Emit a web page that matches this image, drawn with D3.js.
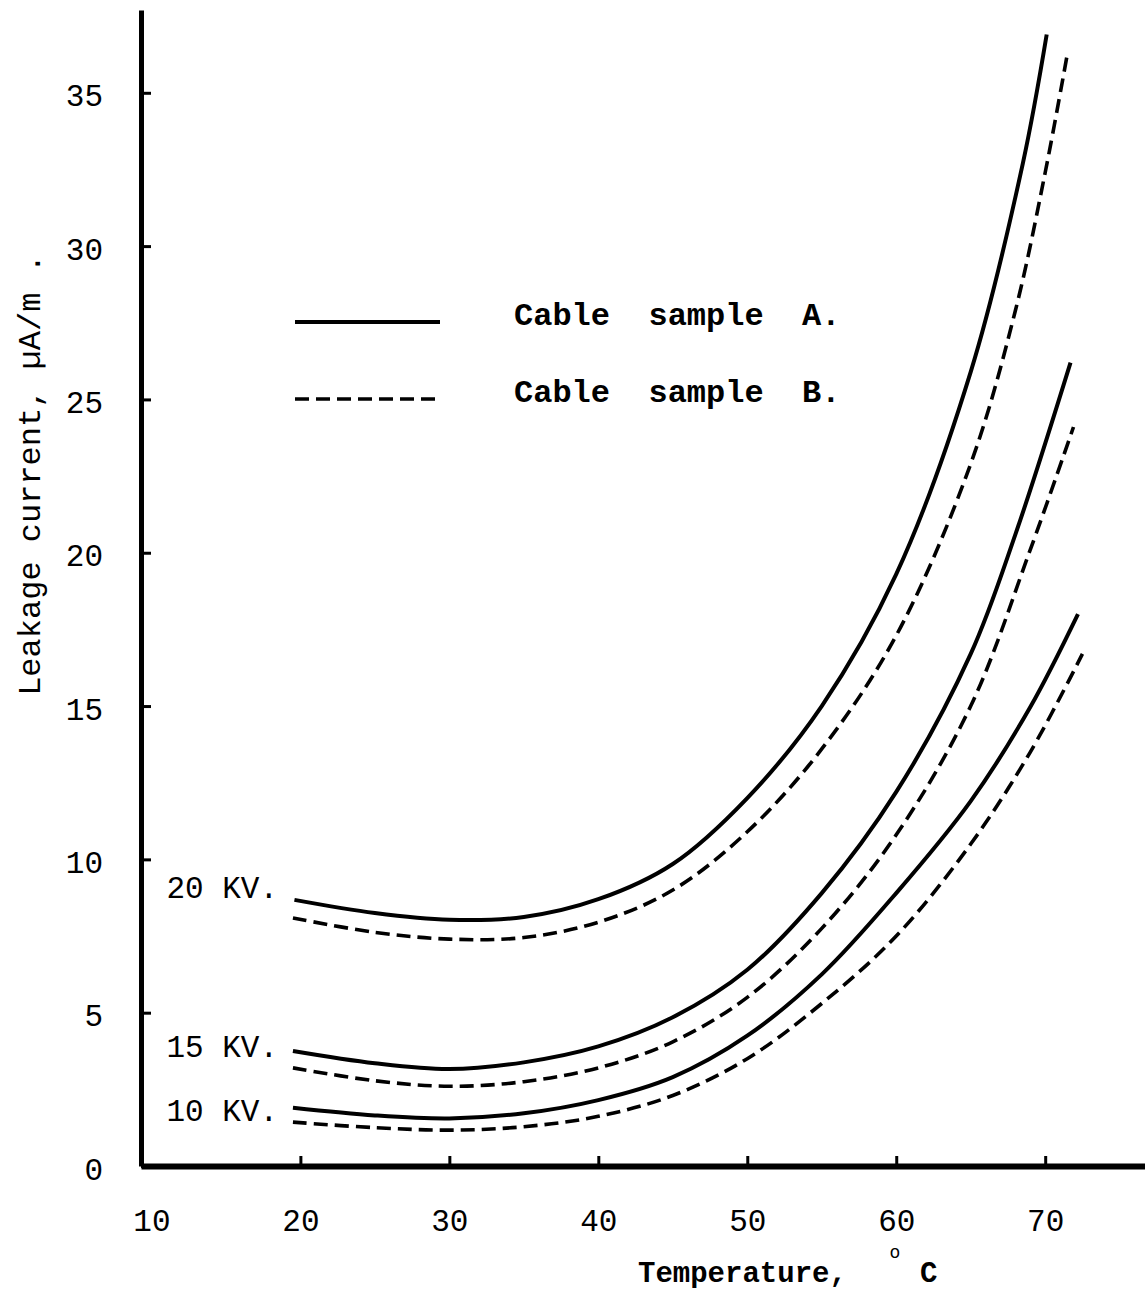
<!DOCTYPE html>
<html>
<head>
<meta charset="utf-8">
<script src="https://cdn.jsdelivr.net/npm/d3@7"></script>
<style>
  html, body { margin: 0; padding: 0; background: #fff; }
  svg { display: block; }
  text { white-space: pre; }
</style>
</head>
<body>
<svg id="chart" width="1145" height="1291"></svg>
<script>
// ---- data ----
const xTicks = [10, 20, 30, 40, 50, 60, 70];
const yTicks = [0, 5, 10, 15, 20, 25, 30, 35];

const t20A = [19.6, 25, 30, 35, 40, 45, 50, 55, 60, 65, 68.5, 70.1];
const v20A = [8.68, 8.25, 8.03, 8.12, 8.7, 9.85, 12.0, 15.0, 19.3, 25.9, 32.7, 36.9];
const t20B = [19.5, 25, 30, 35, 40, 45, 50, 55, 60, 65, 68, 70, 71.5];
const v20B = [8.09, 7.62, 7.4, 7.45, 7.95, 9.0, 10.9, 13.6, 17.3, 22.9, 27.9, 32.4, 36.3];

const t15A = [19.5, 25, 30, 35, 40, 45, 50, 55, 60, 65, 68, 71.7];
const v15A = [3.75, 3.35, 3.16, 3.38, 3.9, 4.85, 6.4, 8.9, 12.2, 16.7, 20.6, 26.2];
const t15B = [19.5, 25, 30, 35, 40, 45, 50, 55, 60, 65, 69, 71.9];
const v15B = [3.2, 2.78, 2.6, 2.75, 3.2, 4.05, 5.5, 7.75, 10.8, 15.0, 20.1, 24.1];

const t10A = [19.5, 25, 30, 35, 40, 45, 50, 55, 60, 65, 69, 72.2];
const v10A = [1.9, 1.65, 1.55, 1.72, 2.15, 2.9, 4.25, 6.25, 8.9, 11.9, 14.97, 18.0];
const t10B = [19.5, 25, 30, 35, 40, 45, 50, 55, 60, 65, 69, 72.5];
const v10B = [1.43, 1.25, 1.17, 1.28, 1.62, 2.3, 3.5, 5.3, 7.5, 10.5, 13.5, 16.7];

const voltageLabels = ["20 KV.", "15 KV.", "10 KV."];
const voltageLabelValues = [9.1, 3.9, 1.83];
const legendLabels = ["Cable  sample  A.", "Cable  sample  B."];

const series = [
  { t: t20A, v: v20A, dashed: false },
  { t: t20B, v: v20B, dashed: true },
  { t: t15A, v: v15A, dashed: false },
  { t: t15B, v: v15B, dashed: true },
  { t: t10A, v: v10A, dashed: false },
  { t: t10B, v: v10B, dashed: true }
];

// ---- drawing ----
const svg = d3.select("#chart");
const mono = "'Liberation Mono', 'DejaVu Sans Mono', monospace";

const x = d3.scaleLinear().domain([9.3, 76.7]).range([141, 1145]);
const y = d3.scaleLinear().domain([0, 37.7]).range([1166, 10]);

// y axis
const gy = svg.append("g").attr("transform", `translate(${x(9.3)},0)`)
  .call(d3.axisLeft(y).tickValues(yTicks).tickSize(-10).tickSizeOuter(0).tickPadding(38));
gy.select(".domain").attr("stroke", "#000").attr("stroke-width", 5);
gy.selectAll(".tick line").attr("stroke", "#000").attr("stroke-width", 3);
gy.selectAll(".tick text").attr("font-family", mono).attr("font-size", 31)
  .attr("fill", "#000").attr("dy", "0.42em");

// x axis
const gx = svg.append("g").attr("transform", `translate(0,${y(0)})`)
  .call(d3.axisBottom(x).tickValues(xTicks).tickSize(-10).tickSizeOuter(0).tickPadding(43));
gx.select(".domain").attr("stroke", "#000").attr("stroke-width", 6);
gx.selectAll(".tick line").attr("stroke", "#000").attr("stroke-width", 3)
  .filter(d => d === 10).remove();
gx.selectAll(".tick text").attr("font-family", mono).attr("font-size", 31).attr("fill", "#000");

// curves
const line = d3.line()
  .x(d => x(d[0])).y(d => y(d[1]))
  .curve(d3.curveCatmullRom.alpha(0.5));

series.forEach(s => {
  const pts = s.t.map((t, i) => [t, s.v[i]]);
  svg.append("path")
    .attr("d", line(pts))
    .attr("fill", "none")
    .attr("stroke", "#000")
    .attr("stroke-width", s.dashed ? 3.6 : 4)
    .attr("stroke-dasharray", s.dashed ? "14,7" : null)
    .attr("stroke-linecap", "butt");
});

// voltage labels
svg.selectAll("text.kv").data(voltageLabels).enter().append("text")
  .attr("class", "kv")
  .attr("x", 278)
  .attr("y", (d, i) => y(voltageLabelValues[i]))
  .attr("text-anchor", "end")
  .attr("dy", "0.35em")
  .attr("font-family", mono)
  .attr("font-size", 31)
  .attr("fill", "#000")
  .text(d => d);

// legend
const legendY = [322, 399];
legendLabels.forEach((lab, i) => {
  svg.append("line")
    .attr("x1", 295).attr("x2", 440)
    .attr("y1", legendY[i]).attr("y2", legendY[i])
    .attr("stroke", "#000").attr("stroke-width", i === 0 ? 4 : 3.6)
    .attr("stroke-dasharray", i === 0 ? null : "14,7");
  svg.append("text")
    .attr("x", 514).attr("y", legendY[i] - 8)
    .attr("dy", "0.35em")
    .attr("xml:space", "preserve")
    .attr("font-family", mono).attr("font-weight", "bold")
    .attr("font-size", 32).attr("fill", "#000")
    .text(lab);
});

// x axis title
svg.append("text")
  .attr("x", 638).attr("y", 1282)
  .attr("font-family", mono).attr("font-weight", "bold")
  .attr("font-size", 29).attr("fill", "#000")
  .text("Temperature,");
svg.append("text")
  .attr("x", 895).attr("y", 1258)
  .attr("text-anchor", "middle")
  .attr("font-family", mono)
  .attr("font-size", 18).attr("fill", "#000")
  .text("o");
svg.append("text")
  .attr("x", 920).attr("y", 1282)
  .attr("font-family", mono).attr("font-weight", "bold")
  .attr("font-size", 29).attr("fill", "#000")
  .text("C");

// y axis title
svg.append("text")
  .attr("transform", "translate(40,475) rotate(-90)")
  .attr("text-anchor", "middle")
  .attr("font-family", mono)
  .attr("font-size", 32).attr("fill", "#000")
  .text("Leakage current, \u00B5A/m .");
</script>
</body>
</html>
